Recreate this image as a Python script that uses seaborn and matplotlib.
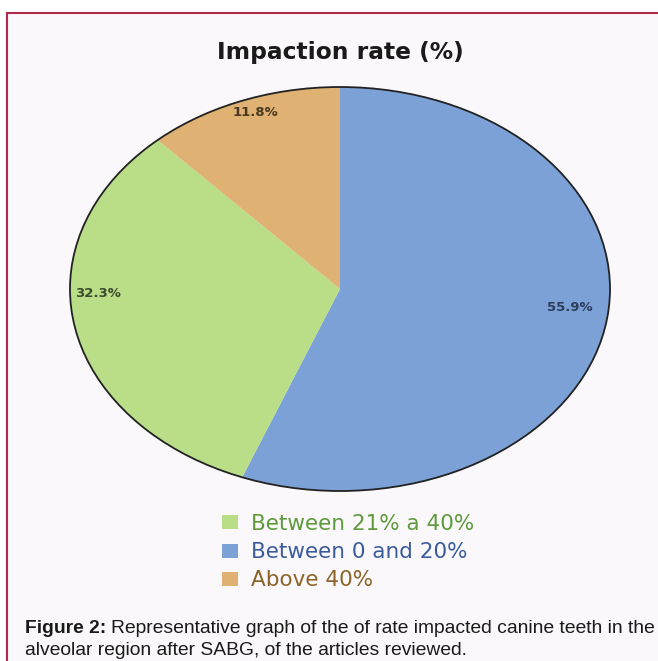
import matplotlib
matplotlib.use("Agg")
import matplotlib.pyplot as plt
import matplotlib.patches as mpatches
import seaborn as sns

# data
categories = ["Between 0 and 20%", "Between 21% a 40%", "Above 40%"]
values = [55.9, 32.3, 11.8]
slice_colors = ["#7ba1d7", "#b9de87", "#dfb173"]
legend_text_colors = ["#3b5c9c", "#5e9a3c", "#8c6428"]
pct_text_colors = ["#2c3e5c", "#3b4a2c", "#4a3820"]
legend_order = [1, 0, 2]
title = "Impaction rate (%)"
caption_bold = "Figure 2:"
caption_lines = ["Representative graph of the of rate impacted canine teeth in the",
                 "alveolar region after SABG, of the articles reviewed."]

sns.set_theme(style="white")
plt.rcParams["font.family"] = ["DejaVu Sans"]

W, H = 658, 661
fig = plt.figure(figsize=(W / 100, H / 100), dpi=100)
fig.patch.set_facecolor("white")

# page frame
frame = mpatches.Rectangle((7 / W, -0.05), 1.0, (H - 13) / H + 0.05,
                           transform=fig.transFigure, facecolor="#faf8fa",
                           edgecolor="#b2294e", linewidth=1.5, zorder=-5)
fig.patches.append(frame)

# pie (stretched into an ellipse like the original)
ax = fig.add_axes([70 / W, (H - 491) / H, 540 / W, 404 / H], zorder=2)
wedges, texts, autotexts = ax.pie(values, colors=slice_colors, startangle=90,
                                  counterclock=False, autopct="%.1f%%",
                                  pctdistance=0.88, wedgeprops=dict(linewidth=0))
ax.set_aspect("auto")
ax.set_xlim(-1, 1)
ax.set_ylim(-1, 1)
ax.axis("off")
ax.add_patch(mpatches.Circle((0, 0), 1, fill=False, edgecolor="#222222",
                             linewidth=1.3, clip_on=False))

pct_pos = [(0.852, -0.094), (-0.896, -0.02), (-0.315, 0.876)]
for t, pos, c in zip(autotexts, pct_pos, pct_text_colors):
    t.set_position(pos)
    t.set_color(c)
    t.set_fontsize(9.5)
    t.set_fontweight("bold")
    t.set_ha("center")
    t.set_va("center")

fig.text(340 / W, 1 - 53 / H, title, ha="center", va="center",
         fontsize=16.8, fontweight="bold", color="#1a1a1a")

leg = fig.legend([wedges[i] for i in legend_order],
                 [categories[i] for i in legend_order],
                 loc="upper left", bbox_to_anchor=(222 / W, 1 - 514 / H),
                 frameon=False, fontsize=15.5, handlelength=0.74, handleheight=0.62,
                 handletextpad=0.6, labelspacing=0.38, borderpad=0, borderaxespad=0)
for txt, i in zip(leg.get_texts(), legend_order):
    txt.set_color(legend_text_colors[i])

# caption
cap_font = ["Liberation Sans", "DejaVu Sans"]
tb = fig.text(25 / W, 1 - 633 / H, caption_bold, fontweight="bold", fontsize=13.9,
              family=cap_font, va="baseline", color="#1a1a1a")
fig.canvas.draw()
bb = tb.get_window_extent()
fig.text((bb.x1 + 5) / W, 1 - 633 / H, caption_lines[0], fontsize=13.9,
         family=cap_font, va="baseline", color="#1a1a1a")
fig.text(25 / W, 1 - 655 / H, caption_lines[1], fontsize=13.9,
         family=cap_font, va="baseline", color="#1a1a1a")

fig.savefig("out.png", dpi=100, facecolor="white")
